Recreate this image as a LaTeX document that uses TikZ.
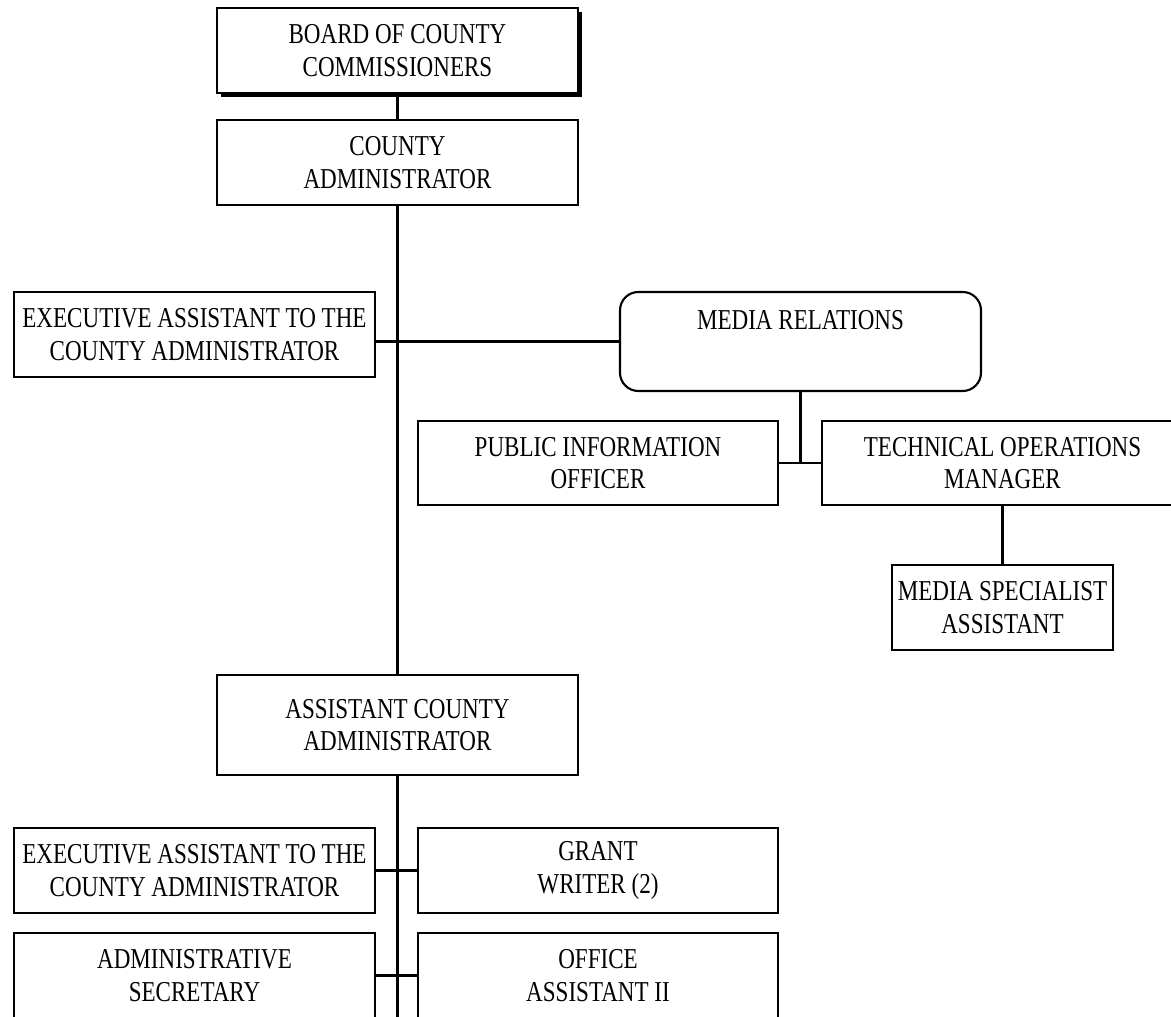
\documentclass[tikz,border=0pt]{standalone}
\usepackage{fontspec}
\setmainfont{Liberation Serif}[FakeStretch=0.8]
\usepackage{tikz}
\usetikzlibrary{shadows}
\tikzset{orgbox/.style={draw, line width=1.8pt, fill=white, align=center, inner sep=0pt,
  minimum width=10.83cm, minimum height=2.55cm, font=\fontsize{24.6}{28}\selectfont},
  orgline/.style={line width=1.9pt}}

\begin{document}
\begin{tikzpicture}[x=0.03cm, y=-0.03cm]
\useasboundingbox (0,0) rectangle (1171,1017);
\clip (0,0) rectangle (1171,1017);
% ====== top of the chart ======
\node[orgbox, drop shadow={shadow xshift=3.4pt, shadow yshift=-3.4pt, fill=black, opacity=1}] (board) at (397.5,50.5) {BOARD OF COUNTY\\ COMMISSIONERS};
\node[orgbox] (county) at (397.5,162.5) {COUNTY\\ ADMINISTRATOR};
% ====== staff and media relations ======
\node[orgbox] (exec1) at (194.5,334.5) {EXECUTIVE ASSISTANT TO THE\\ COUNTY ADMINISTRATOR};
\node[orgbox, rounded corners=0.55cm, minimum height=2.97cm] (media) at (800.5,341.5) {MEDIA RELATIONS\\ \strut};
\node[orgbox, minimum width=10.8cm, minimum height=2.52cm] (pio) at (598,463) {PUBLIC INFORMATION\\ OFFICER};
\node[orgbox, minimum height=2.52cm] (tech) at (1002.5,463) {TECHNICAL OPERATIONS\\ MANAGER};
\node[orgbox, minimum width=6.63cm] (spec) at (1002.5,607.5) {MEDIA SPECIALIST\\ ASSISTANT};
% ====== assistant county administrator and staff ======
\node[orgbox, minimum height=3cm] (asst) at (397.5,725) {ASSISTANT COUNTY\\ ADMINISTRATOR};
\node[orgbox] (exec2) at (194.5,870.5) {EXECUTIVE ASSISTANT TO THE\\ COUNTY ADMINISTRATOR};
\node[orgbox, minimum width=10.8cm] (grant) at (598,870.5) {GRANT\\ WRITER (2)};
\node[orgbox] (sec) at (194.5,975.5) {ADMINISTRATIVE\\ SECRETARY};
\node[orgbox, minimum width=10.8cm] (office) at (598,975.5) {OFFICE\\ ASSISTANT II};
\coordinate (bot) at (397.5,1020);
% ====== connectors ======
\draw[orgline] (board) -- (county);
\draw[orgline] (county) -- (asst);
\draw[orgline] (exec1.east |- media.west) -- (media.west);
\draw[orgline] (media.south) -- (media.south |- pio.east);
\draw[orgline] (pio.east) -- (tech.west);
\draw[orgline] (tech.south) -- (spec.north);
\draw[orgline] (asst.south) -- (bot);
\draw[orgline] (exec2.east) -- (grant.west);
\draw[orgline] (sec.east) -- (office.west);
\end{tikzpicture}
\end{document}
